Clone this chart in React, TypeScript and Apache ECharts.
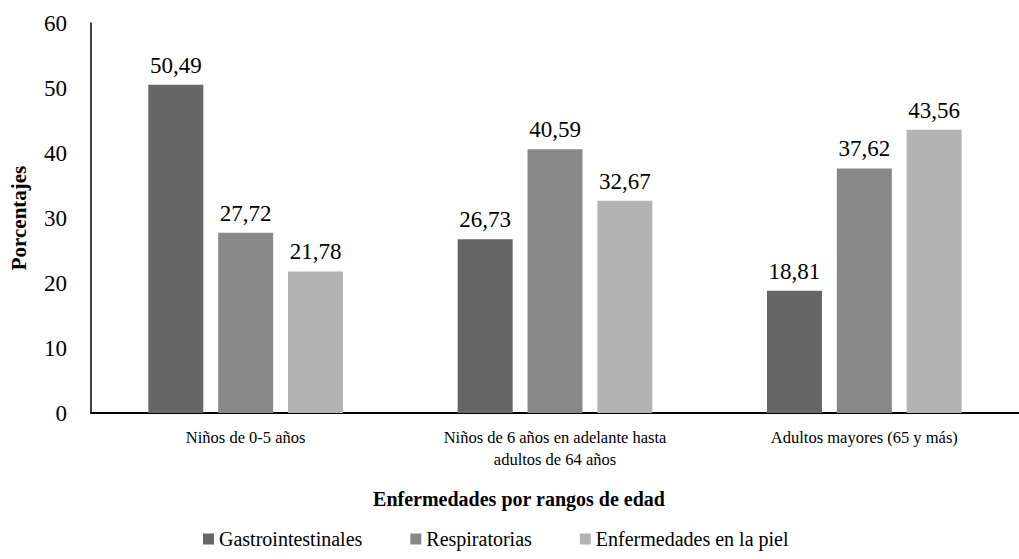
import React, { useEffect, useRef } from "react";
import * as echarts from "echarts";

const categories = [
  "Niños de 0-5 años",
  "Niños de 6 años en adelante hasta\nadultos de 64 años",
  "Adultos mayores (65 y más)",
];
const seriesNames = ["Gastrointestinales", "Respiratorias", "Enfermedades en la piel"];
const gastro = [50.49, 26.73, 18.81];
const respir = [27.72, 40.59, 37.62];
const piel = [21.78, 32.67, 43.56];
const colors = ["#666666", "#888888", "#b3b3b3"];

const FONT = "Liberation Serif, Times New Roman, serif";

export default function App() {
  const ref = useRef<HTMLDivElement>(null);
  useEffect(() => {
    if (!ref.current) return;
    const chart = echarts.init(ref.current, null, { renderer: "svg" });
    const values = [gastro, respir, piel];
    chart.setOption({
      animation: false,
      textStyle: { fontFamily: FONT, color: "#000" },
      grid: { left: 81, right: -4, top: 23, bottom: 146, containLabel: false },
      legend: {
        bottom: 5,
        left: 198,
        icon: "rect",
        itemWidth: 11,
        itemHeight: 11,
        itemGap: 48,
        textStyle: { fontFamily: FONT, fontSize: 20, color: "#000" },
        data: seriesNames,
      },
      xAxis: {
        type: "category",
        data: categories,
        name: "Enfermedades por rangos de edad",
        nameLocation: "middle",
        nameGap: 76,
        nameTextStyle: { fontFamily: FONT, fontSize: 20, fontWeight: "bold", color: "#000", padding: [0, 0, 0, -72] },
        axisLine: { lineStyle: { color: "#000", width: 2 } },
        axisTick: { show: false },
        axisLabel: { fontFamily: FONT, fontSize: 16.5, color: "#000", margin: 13, lineHeight: 22 },
      },
      yAxis: {
        type: "value",
        min: 0,
        max: 60,
        interval: 10,
        name: "Porcentajes",
        nameLocation: "middle",
        nameGap: 62,
        nameTextStyle: { fontFamily: FONT, fontSize: 21, fontWeight: "bold", color: "#000" },
        axisLine: { show: true, lineStyle: { color: "#000", width: 1.5 } },
        axisTick: { show: false },
        splitLine: { show: false },
        axisLabel: { fontFamily: FONT, fontSize: 23, color: "#000", margin: 24 },
      },
      series: seriesNames.map((name, i) => ({
        name,
        type: "bar",
        data: values[i],
        barWidth: 55,
        barGap: "27%",
        itemStyle: { color: colors[i] },
        label: {
          show: true,
          position: "top",
          distance: 8,
          fontFamily: FONT,
          fontSize: 23,
          color: "#000",
          formatter: (p: any) => p.value.toFixed(2).replace(".", ","),
        },
      })),
    });
    return () => chart.dispose();
  }, []);
  return (
    <div
      ref={ref}
      style={{ position: "absolute", left: 0, top: 0, width: 1019, height: 559 }}
    />
  );
}
